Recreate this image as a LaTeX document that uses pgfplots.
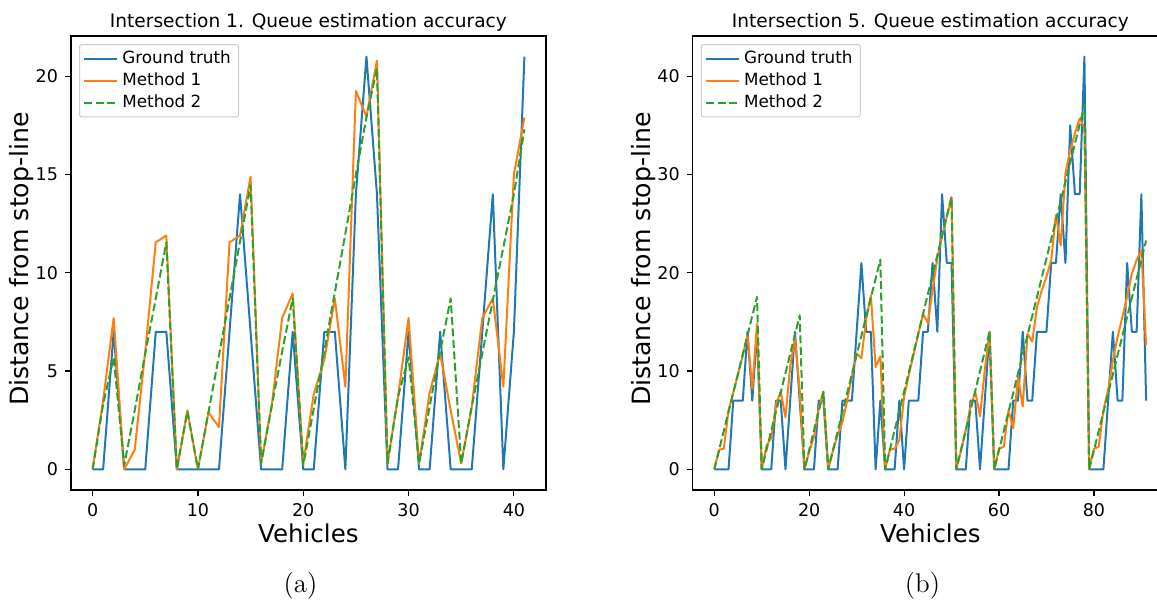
\documentclass[border=0pt]{standalone}
\usepackage{fontspec}
\usepackage{pgfplots}
\usepackage{pgfplotstable}
\pgfplotsset{compat=1.18}
\newfontfamily\dv{DejaVu Sans}
\definecolor{tabblue}{HTML}{1F77B4}
\definecolor{taborange}{HTML}{FF7F0E}
\definecolor{tabgreen}{HTML}{2CA02C}
\definecolor{leggray}{HTML}{CCCCCC}

\pgfplotstableread{
x gt m1 m2
0 0 0 0
1 0 3.5 3.3
2 7 7.7 5.7
3 0 0 0.2
4 0 1.0 3.0
5 0 6.0 5.9
6 7 11.55 8.7
7 7 11.9 11.55
8 0 0 0
9 0 3.0 2.95
10 0 0 0
11 0 2.9 2.9
12 0 2.15 5.8
13 7 11.55 8.7
14 14 11.9 11.6
15 7 14.9 14.45
16 0 0.3 0.3
17 0 3.2 3.2
18 0 7.7 6.0
19 7 8.95 8.7
20 0 0.3 0.2
21 0 3.85 3.1
22 7 5.55 6.0
23 7 8.7 9.0
24 0 4.2 12.0
25 14 19.25 15.0
26 21 17.95 17.9
27 14 20.8 20.4
28 0 0.3 0.3
29 0 3.7 3.7
30 7 7.7 5.7
31 0 0.3 0.3
32 0 3.9 3.2
33 7 5.9 6.0
34 0 3.0 8.7
35 0 0.3 0.3
36 0 3.2 3.2
37 7 7.7 5.9
38 14 8.7 8.6
39 0 4.2 11.3
40 7 15.0 14.0
41 21 17.9 17.3
}\lefttab

\pgfplotstableread{
x gt m1 m2
0 0 0 0
1 0 2.0 1.95
2 0 2.1 3.9
3 0 6.0 5.85
4 7 7.8 7.8
5 7 9.7 9.75
6 7 11.6 11.7
7 14 13.7 13.65
8 7 8.2 15.6
9 14 14.8 17.55
10 0 0 0
11 0 2.4 1.96
12 0 3.2 3.92
13 7 6.6 5.88
14 7 7.9 7.84
15 0 5.3 9.8
16 7 10.5 11.76
17 14 13.4 13.72
18 7 8.0 15.68
19 0 0 0
20 0 1.8 1.97
21 0 3.3 3.94
22 7 6.2 5.91
23 7 7.9 7.88
24 0 0 0
25 0 1.9 1.94
26 0 3.5 3.88
27 7 4.8 5.82
28 7 7.0 7.76
29 7 9.5 9.7
30 14 11.8 11.64
31 21 11.3 13.58
32 14 15.3 15.52
33 14 17.7 17.46
34 0 10.4 19.4
35 7 11.5 21.34
36 0 0 0
37 0 2.0 1.98
38 0 2.1 3.96
39 7 3.0 5.94
40 0 7.4 7.92
41 7 9.6 9.9
42 7 11.7 11.88
43 7 13.8 13.86
44 14 15.8 15.84
45 14 14.9 17.82
46 21 18.2 19.8
47 14 21.5 21.78
48 28 23.8 23.76
49 21 25.7 25.74
50 21 27.7 27.72
51 0 0 0
52 0 1.9 2.0
53 0 4.0 4.0
54 7 6.4 6.0
55 7 7.9 8.0
56 0 5.4 10.0
57 7 10.1 12.0
58 14 14.0 14.0
59 0 0 0
60 0 2.1 1.95
61 0 2.3 3.9
62 0 6.0 5.85
63 7 4.2 7.8
64 7 9.4 9.75
65 14 6.4 11.7
66 7 13.8 13.65
67 7 13.0 15.6
68 14 16.5 17.55
69 14 18.2 19.5
70 14 19.6 21.45
71 21 21.3 23.4
72 21 25.9 25.35
73 28 22.8 27.3
74 21 30.1 29.25
75 35 32.5 31.2
76 28 34.2 33.15
77 28 35.7 35.1
78 42 34.8 37.05
79 0 0 0
80 0 2.1 1.94
81 0 2.3 3.88
82 0 6.0 5.82
83 7 8.1 7.76
84 14 11.1 9.7
85 7 13.5 11.64
86 7 15.5 13.58
87 21 17.6 15.52
88 14 19.9 17.46
89 14 21.3 19.4
90 28 22.3 21.34
91 7 12.6 23.28
}\righttab

\pgfplotsset{
  myax/.style={
    scale only axis, width=237.5pt, height=227pt,
    axis line style={line width=0.6pt, black},
    tick align=outside, major tick length=3pt,
    every tick/.style={line width=0.6pt, black},
    tick pos=left,
    /pgf/number format/assume math mode=true,
    ticklabel style={font=\dv\fontsize{8.75}{10}\selectfont},
    legend cell align=left,
    legend image code/.code={\draw[##1] (0pt,0pt) -- (16.5pt,0pt);},
    legend style={at={(0.017,0.982)}, anchor=north west, draw=leggray,
      rounded corners=1pt, fill=white, fill opacity=0.8, text opacity=1,
      font=\dv\fontsize{8.4}{9}\selectfont, line width=0.5pt,
      inner xsep=1.9pt, inner ysep=1.0pt, row sep=-0.8pt,
      /tikz/column 2/.style={column sep=2.1pt}},
  },
  gt/.style={tabblue, line width=1.0pt, line join=round},
  mone/.style={taborange, line width=1.0pt, line join=round},
  mtwo/.style={tabgreen, line width=1.0pt, line join=round, dash pattern=on 4pt off 1.75pt},
}

\begin{document}
\begin{tikzpicture}
\path[use as bounding box] (0,0) rectangle (578.5pt,300pt);
\clip (0,0) rectangle (578.5pt,300pt);

\begin{axis}[myax, at={(35.5pt,55pt)}, anchor=south west,
  xmin=-2.05, xmax=43.05, ymin=-1.05, ymax=22.05,
  xtick={0,10,20,30,40}, ytick={0,5,10,15,20}]
\addplot[gt] table[x=x,y=gt] {\lefttab};
\addlegendentry{Ground truth}
\addplot[mone] table[x=x,y=m1] {\lefttab};
\addlegendentry{Method 1}
\addplot[mtwo] table[x=x,y=m2] {\lefttab};
\addlegendentry{Method 2}
\end{axis}

\begin{axis}[myax, at={(346.35pt,55pt)}, anchor=south west,
  xmin=-4.55, xmax=95.55, ymin=-2.1, ymax=44.1,
  xtick={0,20,40,60,80}, ytick={0,10,20,30,40}]
\addplot[gt] table[x=x,y=gt] {\righttab};
\addlegendentry{Ground truth}
\addplot[mone] table[x=x,y=m1] {\righttab};
\addlegendentry{Method 1}
\addplot[mtwo] table[x=x,y=m2] {\righttab};
\addlegendentry{Method 2}
\end{axis}

\node[font=\dv\fontsize{9.28}{11}\selectfont, anchor=base] at (154.2pt,286pt) {Intersection 1. Queue estimation accuracy};
\node[font=\dv\fontsize{9.28}{11}\selectfont, anchor=base] at (465.2pt,286pt) {Intersection 5. Queue estimation accuracy};
\node[font=\dv\fontsize{12.25}{14}\selectfont, anchor=base] at (154.2pt,28.5pt) {Vehicles};
\node[font=\dv\fontsize{12.25}{14}\selectfont, anchor=base] at (465.2pt,28.5pt) {Vehicles};
\node[font=\dv\fontsize{12.6}{14}\selectfont, anchor=base, rotate=90] at (14pt,170.5pt) {Distance from stop-line};
\node[font=\dv\fontsize{12.6}{14}\selectfont, anchor=base, rotate=90] at (325pt,170.5pt) {Distance from stop-line};
\node[font=\fontsize{13.5}{16}\selectfont, anchor=base] at (150.25pt,4pt) {(a)};
\node[font=\fontsize{13.5}{16}\selectfont, anchor=base] at (461.25pt,4pt) {(b)};
\end{tikzpicture}
\end{document}
